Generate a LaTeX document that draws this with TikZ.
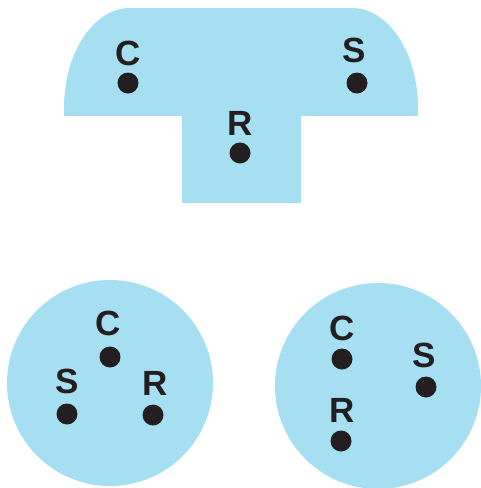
\documentclass[tikz,border=0pt]{standalone}
\usepackage{fontspec}
\setmainfont{Liberation Sans}
\definecolor{plugblue}{HTML}{A6DEF2}
\definecolor{pindark}{HTML}{231F20}
\begin{document}
\begin{tikzpicture}[x=1pt,y=-1pt,
  pin/.style={circle,fill=pindark,inner sep=0pt,minimum size=21pt},
  lbl/.style={font=\fontsize{35}{35}\selectfont\bfseries,text=pindark,inner sep=0pt}]
\useasboundingbox (0,0) rectangle (481,488);
% top T-shaped plug
\fill[plugblue] (64,116) -- (64,108) arc[start angle=180,end angle=270,x radius=66,y radius=100]
  -- (352,8) arc[start angle=270,end angle=360,x radius=66,y radius=100]
  -- (418,116) -- (301,116) -- (301,203) -- (182,203) -- (182,116) -- cycle;
\node[pin] (tc) at (128,83) {};
\node[pin] (ts) at (357,83) {};
\node[pin] (tr) at (240,153) {};
\node[lbl] (tcl) at (128,53) {C};
\node[lbl] (tsl) at (354,50) {S};
\node[lbl] (trl) at (240,123) {R};
% bottom left round plug
\fill[plugblue] (110,383) circle[radius=103];
\node[pin] (lc) at (110,357) {};
\node[pin] (ls) at (67,414) {};
\node[pin] (lr) at (153,415) {};
\node[lbl] (lcl) at (108,323) {C};
\node[lbl] (lsl) at (67,381) {S};
\node[lbl] (lrl) at (155,383) {R};
% bottom right round plug
\fill[plugblue] (378,386) circle[radius=103];
\node[pin] (rc) at (342,359) {};
\node[pin] (rs) at (426,387) {};
\node[pin] (rr) at (341,441) {};
\node[lbl] (rcl) at (342,328) {C};
\node[lbl] (rsl) at (424,355) {S};
\node[lbl] (rrl) at (342,410) {R};
\end{tikzpicture}
\end{document}
